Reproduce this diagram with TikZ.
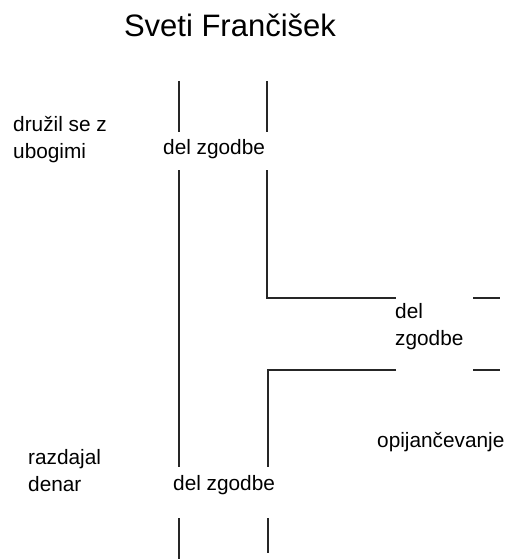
\documentclass[tikz,border=0pt]{standalone}
\usepackage{fontspec}
\setmainfont{Liberation Sans}
\usetikzlibrary{positioning}

\begin{document}
\begin{tikzpicture}[x=1pt,y=-1pt,inner sep=0pt,
  lbl/.style={anchor=base west,align=left,font=\fontsize{20.8}{27}\selectfont},
  part/.style={line width=1.3pt,draw=black!85}]
  \useasboundingbox (0,0) rectangle (509,559);
  \node[anchor=base,font=\fontsize{31}{36}\selectfont] (title) at (230,37) {Sveti Frančišek};
  \node[lbl] (druzil) at (13,158) {družil se z\\ubogimi};
  \node[lbl] (del1) at (163,154.5) {del zgodbe};
  \node[lbl] (del2) at (395,345) {del\\zgodbe};
  \node[lbl] (opij) at (377,447) {opijančevanje};
  \node[lbl] (razd) at (28,491) {razdajal\\denar};
  \node[lbl] (del3) at (173,490) {del zgodbe};
  % robovi
  \coordinate (a1) at (179,81);  \coordinate (a2) at (179,132);
  \coordinate (b1) at (267,81);  \coordinate (b2) at (267,132);
  \coordinate (c1) at (179,170); \coordinate (c2) at (179,467);
  \coordinate (d1) at (267,170); \coordinate (d2) at (267,298);
  \coordinate (d3) at (396,298); \coordinate (e1) at (473,298);
  \coordinate (e2) at (500,298); \coordinate (f1) at (473,370);
  \coordinate (f2) at (500,370); \coordinate (g1) at (396,370);
  \coordinate (g2) at (268,370); \coordinate (g3) at (268,467);
  \coordinate (h1) at (179,518); \coordinate (h2) at (179,559);
  \coordinate (i1) at (268,518); \coordinate (i2) at (268,553);
  \draw[part] (a1) -- (a2) (b1) -- (b2);
  \draw[part] (c1) -- (c2);
  \draw[part] (d1) -- (d2) -- (d3) (e1) -- (e2);
  \draw[part] (f1) -- (f2) (g1) -- (g2) -- (g3);
  \draw[part] (h1) -- (h2) (i1) -- (i2);
\end{tikzpicture}
\end{document}
